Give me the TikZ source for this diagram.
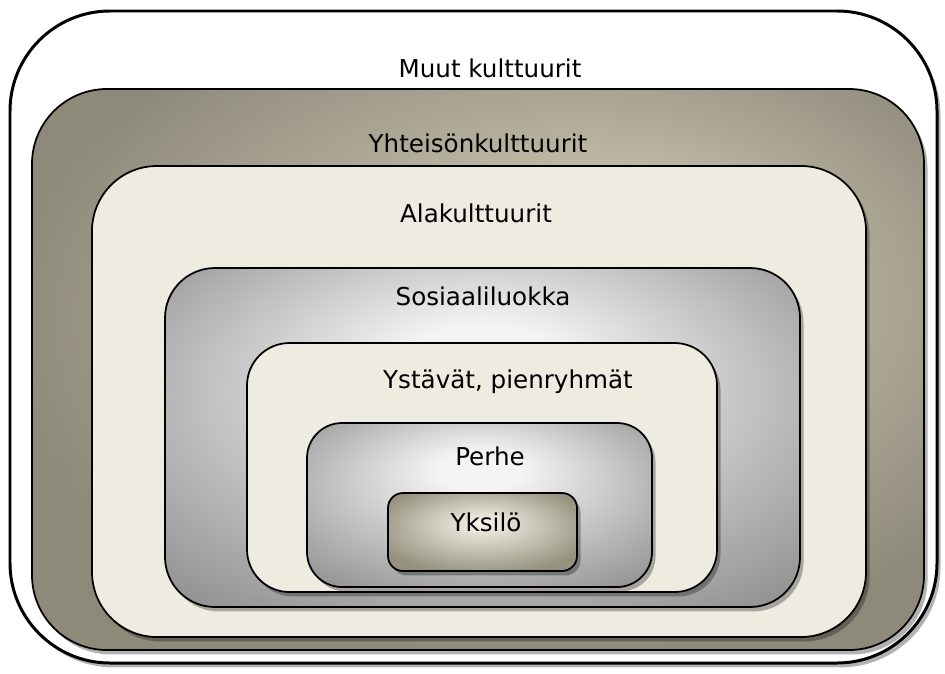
\documentclass[tikz,border=0pt]{standalone}
\usepackage{fontspec}
\setmainfont{DejaVu Sans}
\usetikzlibrary{shadows}

\definecolor{tanD}{HTML}{8E8A7A}
\definecolor{tanL}{HTML}{D6CFBA}
\definecolor{cream}{HTML}{EEEBE1}
\definecolor{grayD}{HTML}{8C8C8C}
\definecolor{grayL}{HTML}{F4F4F4}
\definecolor{paleL}{HTML}{F8F7EC}
\definecolor{paleD}{HTML}{95917E}

\pgfdeclareradialshading{tanglow}{\pgfpoint{8bp}{10bp}}{color(0bp)=(tanL); color(30bp)=(tanD); color(50bp)=(tanD)}
\pgfdeclareradialshading{grayglow}{\pgfpoint{0bp}{12bp}}{color(0bp)=(grayL); color(6bp)=(grayL); color(38bp)=(grayD); color(50bp)=(grayD)}
\pgfdeclareradialshading{paleglow}{\pgfpoint{0bp}{6bp}}{color(0bp)=(paleL); color(30bp)=(paleD); color(50bp)=(paleD)}

\begin{document}
\begin{tikzpicture}[x=0.02cm,y=-0.02cm,
    ring/.style={draw=black,line width=1pt,
      drop shadow={shadow xshift=2pt,shadow yshift=-2.5pt,opacity=.3,fill=black}},
    lbl/.style={font=\fontsize{14}{16}\selectfont,anchor=base,inner sep=0pt}]
  \useasboundingbox (0,0) rectangle (945,673);
  % kehät ulkoa sisään
  \draw[ring,line width=1.7pt,fill=white,rounded corners=2cm] (10,11) rectangle (937,663);
  \draw[ring,shading=tanglow,rounded corners=1.5cm] (32,89) rectangle (924,650);
  \draw[ring,fill=cream,rounded corners=1.3cm] (92,166) rectangle (866,637);
  \draw[ring,shading=grayglow,rounded corners=1cm] (165,268) rectangle (800,607);
  \draw[ring,fill=cream,rounded corners=0.85cm] (247,343) rectangle (717,592);
  \draw[ring,shading=grayglow,rounded corners=0.7cm] (307,423) rectangle (652,587);
  \draw[ring,shading=paleglow,rounded corners=0.3cm] (388,493) rectangle (577,571);
  % tekstit
  \node[lbl] (muut) at (490,77) {Muut kulttuurit};
  \node[lbl] (yhteiso) at (478,152) {Yhteisönkulttuurit};
  \node[lbl] (ala) at (476,222) {Alakulttuurit};
  \node[lbl] (sosiaali) at (483,305) {Sosiaaliluokka};
  \node[lbl] (ystavat) at (508,388) {Ystävät, pienryhmät};
  \node[lbl] (perhe) at (490,465) {Perhe};
  \node[lbl] (yksilo) at (486,531) {Yksilö};
\end{tikzpicture}
\end{document}
